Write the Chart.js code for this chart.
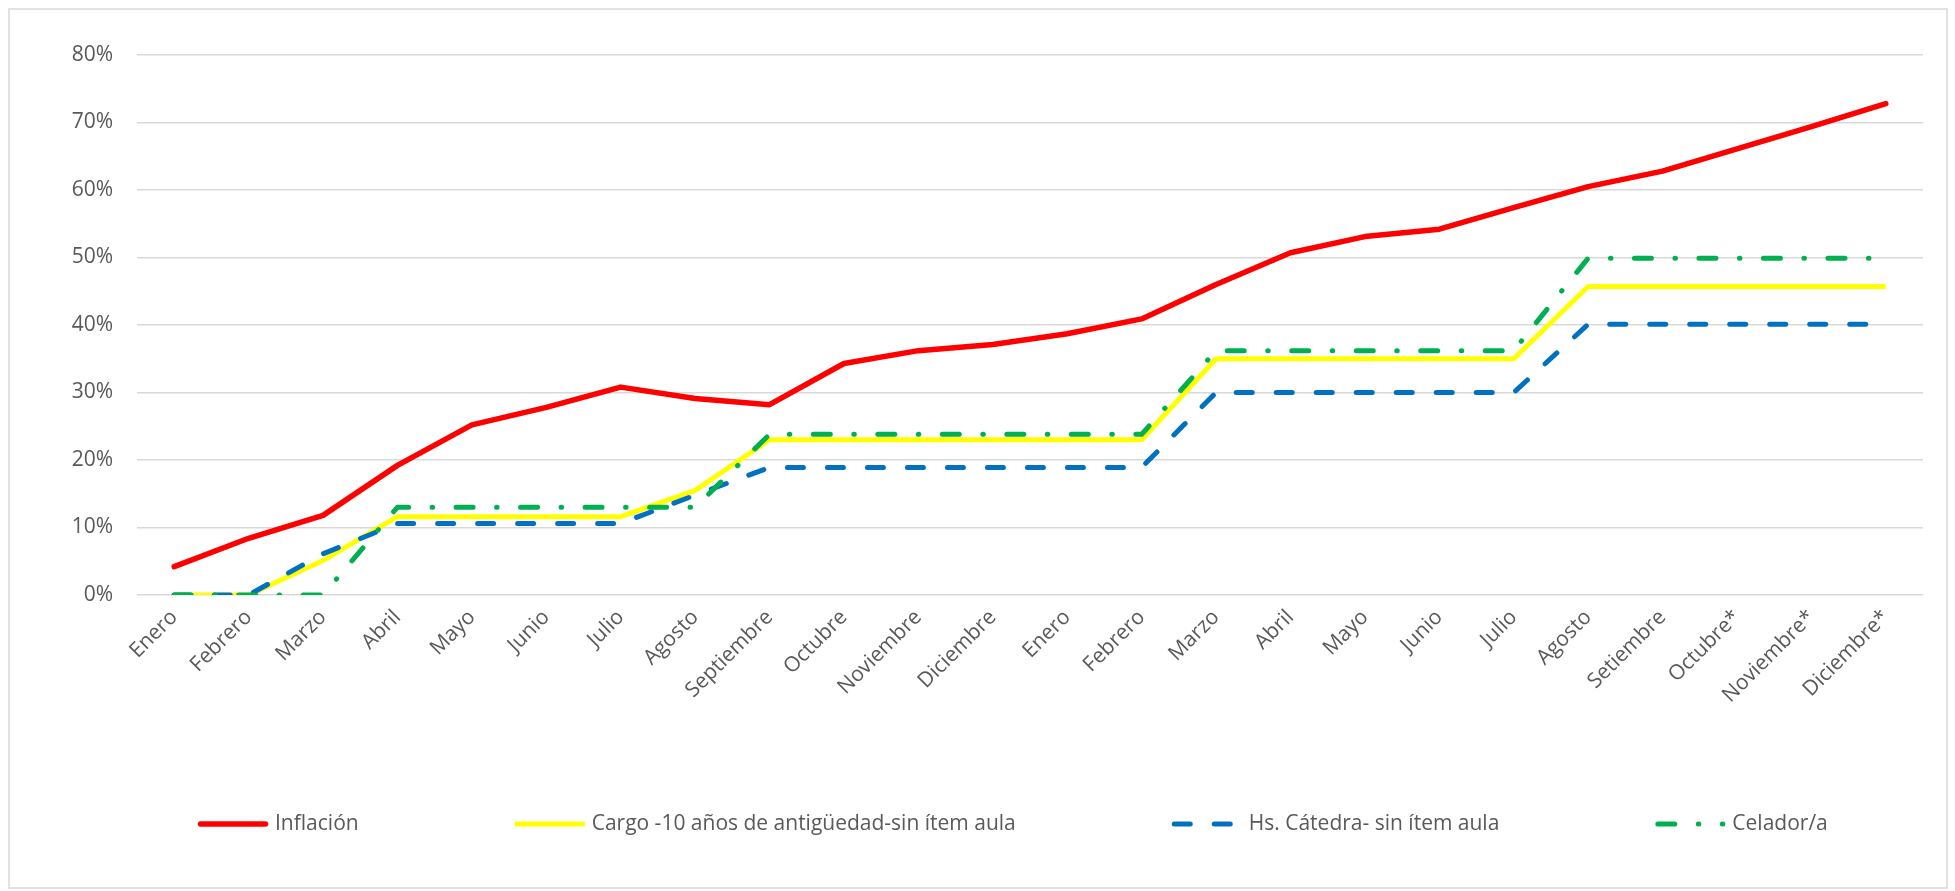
<!DOCTYPE html>
<html>
<head>
<meta charset="utf-8">
<title>Inflación vs salarios</title>
<script src="https://cdn.jsdelivr.net/npm/chart.js@4.4.1/dist/chart.umd.min.js"></script>
<style>
    body { margin: 0; background: #ffffff; }
    #wrap { width: 1955px; height: 891px; }
</style>
</head>
<body>
<div id="wrap"><canvas id="lineChart" width="1955" height="891"></canvas></div>
<script>
// meses (dos años, los últimos tres son proyectados)
var months = ['Enero', 'Febrero', 'Marzo', 'Abril', 'Mayo', 'Junio', 'Julio', 'Agosto', 'Septiembre', 'Octubre', 'Noviembre', 'Diciembre',
    'Enero', 'Febrero', 'Marzo', 'Abril', 'Mayo', 'Junio', 'Julio', 'Agosto', 'Setiembre', 'Octubre*', 'Noviembre*', 'Diciembre*'];

// valores en %
var inflacion = [4.2, 8.4, 11.8, 19.2, 25.2, 27.8, 30.8, 29.1, 28.2, 34.3, 36.2, 37.1, 38.7, 40.9, 46.0, 50.7, 53.1, 54.2, 57.4, 60.5, 62.8, 66.1, 69.4, 72.8];
var cargo = [0, 0, 5.1, 11.6, 11.6, 11.6, 11.6, 15.5, 23.0, 23.0, 23.0, 23.0, 23.0, 23.0, 35.0, 35.0, 35.0, 35.0, 35.0, 45.7, 45.7, 45.7, 45.7, 45.7];
var hsCatedra = [0, 0, 6.1, 10.6, 10.6, 10.6, 10.6, 14.8, 18.9, 18.9, 18.9, 18.9, 18.9, 18.9, 30.0, 30.0, 30.0, 30.0, 30.0, 40.1, 40.1, 40.1, 40.1, 40.1];
var celador = [0, 0, 0, 13.0, 13.0, 13.0, 13.0, 13.0, 23.8, 23.8, 23.8, 23.8, 23.8, 23.8, 36.2, 36.2, 36.2, 36.2, 36.2, 49.9, 49.9, 49.9, 49.9, 49.9];

var yTicks = [0, 10, 20, 30, 40, 50, 60, 70, 80];

var textColor = '#595959';
var gridColor = '#d9d9d9';

// marco gris alrededor del gráfico
var frame = {
    id: 'frame',
    beforeDraw: function (chart) {
        var ctx = chart.ctx;
        ctx.save();
        ctx.strokeStyle = gridColor;
        ctx.lineWidth = 1.5;
        ctx.strokeRect(9, 9, chart.width - 17, chart.height - 12);
        ctx.restore();
    }
};

// leyenda abajo, con la muestra de línea de cada serie
var lineLegend = {
    id: 'lineLegend',
    afterDraw: function (chart) {
        var ctx = chart.ctx;
        var x = 198;
        var y = 824;
        ctx.save();
        ctx.font = '21px "Open Sans"';
        ctx.textBaseline = 'middle';
        chart.data.datasets.forEach(function (ds) {
            var cap = ds.borderCapStyle === 'round' ? 2.5 : 0;
            ctx.beginPath();
            ctx.setLineDash(ds.borderDash || []);
            ctx.lineCap = ds.borderCapStyle || 'butt';
            ctx.lineWidth = ds.borderWidth;
            ctx.strokeStyle = ds.borderColor;
            ctx.moveTo(x + cap, y);
            ctx.lineTo(x + 70 - cap, y);
            ctx.stroke();
            ctx.setLineDash([]);
            ctx.fillStyle = textColor;
            ctx.fillText(ds.label, x + 77, y);
            x += 77 + ctx.measureText(ds.label).width + 156;
        });
        ctx.restore();
    }
};

document.addEventListener('DOMContentLoaded', function () {
    Chart.defaults.font.family = '"Open Sans", sans-serif';
    Chart.defaults.font.size = 21;
    Chart.defaults.color = textColor;

    var ctx = document.getElementById('lineChart').getContext('2d');

    var lineChart = new Chart(ctx, {
        type: 'line',
        data: {
            labels: months,
            datasets: [{
                label: 'Inflación',
                data: inflacion,
                borderColor: '#ff0000',
                borderWidth: 5.5,
                borderCapStyle: 'round',
                order: 4
            }, {
                label: 'Cargo -10 años de antigüedad-sin ítem aula',
                data: cargo,
                borderColor: '#ffff00',
                borderWidth: 5,
                borderCapStyle: 'butt',
                order: 3
            }, {
                label: 'Hs. Cátedra- sin ítem aula',
                data: hsCatedra,
                borderColor: '#0070c0',
                borderWidth: 5,
                borderDash: [16, 24],
                borderCapStyle: 'round',
                order: 2
            }, {
                label: 'Celador/a',
                data: celador,
                borderColor: '#00b050',
                borderWidth: 5,
                borderDash: [17, 23.5, 0.5, 23.5],
                borderCapStyle: 'round',
                order: 1
            }]
        },
        options: {
            responsive: false,
            animation: false,
            layout: {
                padding: { left: 0, top: 55, right: 32, bottom: 0 }
            },
            elements: {
                point: { radius: 0 },
                line: { tension: 0, borderJoinStyle: 'round' }
            },
            plugins: {
                legend: { display: false },
                tooltip: { enabled: false }
            },
            scales: {
                x: {
                    offset: true,
                    grid: { display: false, drawTicks: false },
                    border: { display: false },
                    ticks: {
                        autoSkip: false,
                        minRotation: 45,
                        maxRotation: 45,
                        padding: 10
                    },
                    afterFit: function (scale) { scale.height = 296; }
                },
                y: {
                    min: 0,
                    max: 80,
                    grid: { color: gridColor, lineWidth: 1.5, drawTicks: false },
                    border: { display: false },
                    afterBuildTicks: function (scale) {
                        scale.ticks = yTicks.map(function (v) { return { value: v }; });
                    },
                    ticks: {
                        padding: 24,
                        callback: function (value) { return value + '%'; }
                    },
                    afterFit: function (scale) { scale.width = 137; }
                }
            }
        },
        plugins: [frame, lineLegend]
    });
});
</script>
</body>
</html>
